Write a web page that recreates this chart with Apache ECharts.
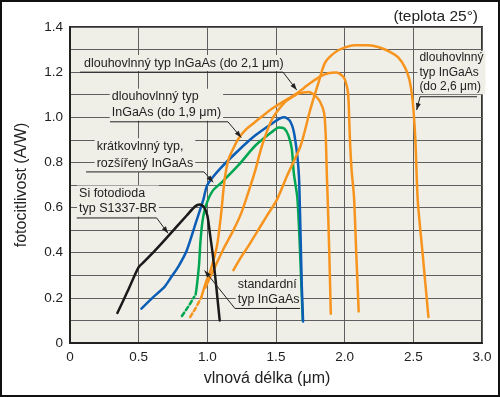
<!DOCTYPE html>
<html>
<head>
<meta charset="utf-8">
<script src="https://cdn.jsdelivr.net/npm/echarts@6/dist/echarts.min.js"></script>
<style>
html, body { margin: 0; padding: 0; background: #fff; }
#chart { width: 500px; height: 397px; }
</style>
</head>
<body>
<div id="chart"></div>
<script>
// spektralni citlivost [vlnova delka (um), A/W]
const siS1337 = [[0.345,0.133],[0.42,0.23],[0.5,0.336],[0.54,0.36],[0.62,0.41],[0.71,0.47],[0.85,0.565],[0.91,0.605],[0.945,0.614],[0.975,0.603],[1.0,0.565],[1.02,0.48],[1.04,0.39],[1.06,0.28],[1.075,0.19],[1.09,0.1]]
const shortExt = [[0.52,0.152],[0.6,0.2],[0.69,0.25],[0.735,0.29],[0.79,0.34],[0.85,0.41],[0.92,0.54],[0.97,0.633],[1.0,0.7],[1.09,0.77],[1.23,0.855],[1.35,0.92],[1.47,0.972],[1.53,0.995],[1.56,1.0],[1.6,0.985],[1.63,0.935],[1.655,0.83],[1.667,0.74],[1.672,0.646],[1.68,0.45],[1.688,0.25],[1.697,0.095]]
const standardDash = [[0.815,0.12],[0.86,0.16],[0.905,0.205]]
const standard = [[0.915,0.215],[0.925,0.26],[0.94,0.35],[0.95,0.45],[0.965,0.54],[0.99,0.61],[1.04,0.675],[1.11,0.715],[1.23,0.79],[1.35,0.875],[1.47,0.935],[1.52,0.955],[1.56,0.95],[1.59,0.92],[1.615,0.86],[1.63,0.75],[1.655,0.646],[1.672,0.45],[1.685,0.25],[1.695,0.1]]
const long21Dash = [[0.875,0.115],[0.915,0.155],[0.955,0.2]]
const long21 = [[0.955,0.2],[0.99,0.27],[1.02,0.315],[1.07,0.43],[1.1,0.57],[1.125,0.72],[1.155,0.815],[1.2,0.875],[1.226,0.905],[1.28,0.945],[1.35,0.98],[1.47,1.038],[1.59,1.083],[1.65,1.105],[1.74,1.147],[1.82,1.18],[1.88,1.195],[1.94,1.198],[1.98,1.185],[2.0,1.17],[2.015,1.14],[2.024,1.11],[2.03,1.05],[2.037,0.92],[2.05,0.77],[2.068,0.646],[2.085,0.39],[2.102,0.14]]
const long19 = [[0.985,0.245],[1.05,0.33],[1.12,0.42],[1.19,0.5],[1.25,0.58],[1.3,0.67],[1.347,0.76],[1.396,0.87],[1.47,0.99],[1.566,1.068],[1.614,1.088],[1.663,1.105],[1.737,1.112],[1.786,1.095],[1.82,1.07],[1.85,1.02],[1.862,0.92],[1.87,0.75],[1.876,0.646],[1.888,0.4],[1.899,0.13]]
const long26 = [[1.19,0.323],[1.25,0.385],[1.3,0.43],[1.36,0.49],[1.43,0.56],[1.505,0.633],[1.58,0.74],[1.68,0.875],[1.75,1.035],[1.81,1.155],[1.86,1.245],[1.95,1.296],[2.07,1.319],[2.17,1.319],[2.25,1.31],[2.33,1.29],[2.39,1.265],[2.44,1.22],[2.47,1.17],[2.49,1.1],[2.5,1.04],[2.515,0.9],[2.532,0.633],[2.567,0.4],[2.61,0.115]]

// popisky s odkazovou carou (souradnice v datech)
const notes = [
  {text: 'dlouhovlnný typ InGaAs (do 2,1 μm)', pos: [0.102, 1.240], lead: [[0.073,1.2],[1.551,1.2],[1.651,1.121]], fs: 12.5, lh: 16},
  {text: 'dlouhovlnný typ\nInGaAs (do 1,9 μm)', pos: [0.304, 1.056], lead: [[0.291,0.980],[1.15,0.980],[1.247,0.910]], fs: 12.5, lh: 16},
  {text: 'krátkovlnný typ,\nrozšířený InGaAs', pos: [0.194, 0.832], lead: [[0.117,0.758],[0.976,0.758],[1.043,0.712]], fs: 12.5, lh: 17},
  {text: 'Si fotodioda\ntyp S1337-BR', pos: [0.066, 0.629], lead: [[0.049,0.554],[0.631,0.554],[0.714,0.486]], fs: 12.5, lh: 15.5},
  {text: 'standardní\ntyp InGaAs', pos: [1.221, 0.227], lead: [[1.675,0.153],[1.201,0.153],[0.980,0.321]], fs: 12.5, lh: 15},
  {text: 'dlouhovlnný\ntyp InGaAs\n(do 2,6 μm)', pos: [2.544, 1.198], lead: [[2.964,1.091],[2.549,1.091],[2.524,1.032]], fs: 12, lh: 14.5}
]

const FONT = 'Liberation Sans, Arial, sans-serif'
const BG = '#EFEEE7'
const ORANGE = '#F7941D'

let chart = echarts.init(document.getElementById('chart'))

function curve(data, color, dashed) {
  return {
    type: 'line',
    data: data,
    showSymbol: false,
    smooth: 0.25,
    silent: true,
    lineStyle: {color: color, width: 2.5, type: dashed ? [4, 3] : 'solid', join: 'round', cap: 'round'}
  }
}

chart.setOption({
  animation: false,
  title: {
    text: '(teplota 25°)',
    right: 17,
    top: 4,
    textStyle: {fontFamily: FONT, fontSize: 15.5, fontWeight: 'normal', color: '#222'}
  },
  grid: {
    left: 70, right: 18, top: 27, bottom: 54,
    show: true,
    backgroundColor: BG,
    borderColor: '#333',
    borderWidth: 2
  },
  xAxis: {
    type: 'value',
    min: 0, max: 3, interval: 0.5,
    name: 'vlnová délka (μm)',
    nameLocation: 'middle',
    nameGap: 28,
    nameTextStyle: {fontFamily: FONT, fontSize: 16, color: '#222', padding: [0, 18, 0, 0]},
    axisLine: {lineStyle: {color: '#222', width: 2}},
    axisTick: {show: false},
    axisLabel: {
      margin: 7,
      fontFamily: FONT, fontSize: 13.5, color: '#222',
      formatter: v => v === 0 ? '0' : v.toFixed(1)
    },
    splitLine: {show: true, lineStyle: {color: '#5f5f5f', width: 1}}
  },
  yAxis: {
    type: 'value',
    min: 0, max: 1.4, interval: 0.1,
    name: 'fotocitlivost (A/W)',
    nameLocation: 'middle',
    nameGap: 40,
    nameTextStyle: {fontFamily: FONT, fontSize: 16, color: '#222'},
    axisLine: {show: true, lineStyle: {color: '#222', width: 2}},
    axisTick: {show: false},
    axisLabel: {
      margin: 7,
      fontFamily: FONT, fontSize: 13.5, color: '#222',
      formatter: v => Math.round(v * 10) % 2 === 0 ? (v === 0 ? '0' : v.toFixed(1)) : ''
    },
    splitLine: {show: true, lineStyle: {color: '#5f5f5f', width: 1}}
  },
  series: [
    curve(standardDash, '#00A651', true),
    curve(standard, '#00A651'),
    curve(shortExt, '#0B5DB5'),
    curve(long21Dash, ORANGE, true),
    curve(long21, ORANGE),
    curve(long19, ORANGE),
    curve(long26, ORANGE),
    curve(siS1337, '#1a1a1a')
  ]
})

// popisky a sipky
let px = p => chart.convertToPixel({xAxisIndex: 0, yAxisIndex: 0}, p)
let graphics = [{
  type: 'rect',
  shape: {x: 1, y: 1, width: 498, height: 395},
  style: {fill: null, stroke: '#111', lineWidth: 2},
  z: 10
}]
notes.forEach(n => {
  let p = px(n.pos)
  graphics.push({
    type: 'text',
    x: p[0] - 2,
    y: p[1],
    z: 1,
    style: {
      text: n.text,
      font: n.fs + 'px ' + FONT,
      fill: '#222',
      align: 'left',
      verticalAlign: 'middle',
      lineHeight: n.lh,
      backgroundColor: BG,
      padding: [0, 2, 0, 2]
    }
  })
  let pts = n.lead.map(px)
  graphics.push({
    type: 'polyline',
    z: 5,
    shape: {points: pts},
    style: {stroke: '#222', lineWidth: 1, fill: null}
  })
  // hrot sipky
  let tip = pts[pts.length - 1], prev = pts[pts.length - 2]
  let dx = tip[0] - prev[0], dy = tip[1] - prev[1]
  let len = Math.sqrt(dx * dx + dy * dy)
  dx /= len; dy /= len
  let bx = tip[0] - dx * 7, by = tip[1] - dy * 7
  graphics.push({
    type: 'polygon',
    z: 5,
    shape: {points: [tip, [bx - dy * 2.5, by + dx * 2.5], [bx + dy * 2.5, by - dx * 2.5]]},
    style: {fill: '#222'}
  })
})
chart.setOption({graphic: graphics})
</script>
</body>
</html>
